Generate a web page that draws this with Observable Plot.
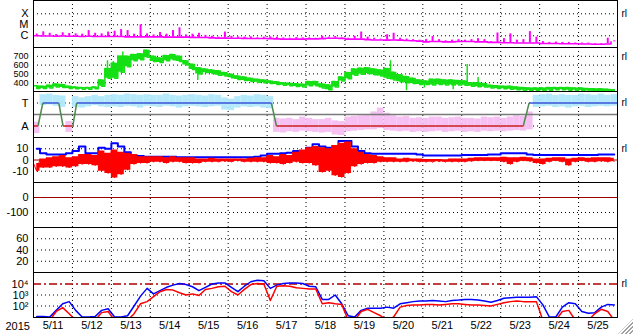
<!DOCTYPE html>
<html><head><meta charset="utf-8">
<script src="https://cdn.jsdelivr.net/npm/d3@7"></script>
<script src="https://cdn.jsdelivr.net/npm/@observablehq/plot@0.6"></script>
<style>
body{margin:0;background:#fff;}
#chart{position:relative;width:633px;height:334px;overflow:hidden;background:#fff;}
#grip{position:absolute;right:0;bottom:0;width:15px;height:15px;
 background:repeating-linear-gradient(-45deg,#fff 0 1.5px,#a0a0a0 1.5px 3px);
 clip-path:polygon(100% 0,100% 100%,0 100%);}
</style></head><body><div id="chart"><div id="grip"></div></div>
<script>
// ---- data (4-hour bins from 2015-05-11 00:00 UT) ----
const dayLabels = ["5/11","5/12","5/13","5/14","5/15","5/16","5/17","5/18","5/19","5/20","5/21","5/22","5/23","5/24","5/25"];
const yearLabel = "2015";

// X-ray flux in units of C1 (1e-6 W/m2): baseline and peak per bin
const xrayLo = [1.0,0.95,0.95,0.9,0.95,0.9, 0.9,0.85,0.9,0.85,0.85,0.85, 0.85,0.85,0.8,0.8,0.8,0.8,
  0.8,0.8,0.75,0.75,0.75,0.75, 0.72,0.7,0.7,0.65,0.62,0.62, 0.6,0.6,0.58,0.57,0.57,0.57,
  0.55,0.52,0.5,0.5,0.5,0.5, 0.52,0.52,0.55,0.6,0.6,0.58, 0.5,0.5,0.5,0.45,0.42,0.42,
  0.4,0.42,0.4,0.37,0.35,0.33, 0.28,0.3,0.3,0.28,0.28,0.3, 0.3,0.3,0.28,0.28,0.25,0.25,
  0.23,0.23,0.22,0.22,0.22,0.22, 0.2,0.2,0.2,0.19,0.19,0.19, 0.18,0.18,0.17,0.17,0.18,0.28];
const xrayHi = [1.45,2.3,1.7,1.3,1.9,1.6, 1.5,1.4,3.0,1.7,1.5,2.2, 2.6,3.7,3.0,1.4,10,1.5,
  1.2,2.0,1.4,3.0,5.3,1.2, 1.4,1.7,1.1,0.9,0.75,2.2, 0.9,0.8,0.75,0.8,0.65,0.75,
  0.8,0.75,0.65,0.6,0.7,0.65, 0.65,0.6,0.9,0.75,0.85,0.65, 0.6,0.9,2.2,0.75,0.6,0.5,
  1.25,1.7,0.6,0.5,0.45,0.4, 0.45,0.85,0.45,0.35,0.4,0.45, 0.4,0.45,0.55,0.45,0.3,1.8,
  0.55,1.5,0.4,0.45,2.4,0.75, 0.3,0.25,0.27,0.25,0.25,0.22, 0.22,0.22,0.2,0.2,0.6,0.35];

// Solar wind speed (km/s): band min and max per bin, plus isolated spikes
const speedLo = [335,335,340,350,345,335, 330,325,325,330,360,450, 450,520,580,650,660,690,
  640,630,650,660,640,600, 550,500,515,505,485,475, 455,435,425,415,405,400,
  390,380,372,365,358,352, 365,365,340,320,350,420, 445,485,495,505,490,475,
  450,430,410,400,390,380, 380,375,380,375,375,375, 370,360,355,350,340,335,
  330,325,320,315,310,310, 310,315,320,320,315,315, 310,305,300,300,295,290];
const speedHi = [365,360,370,385,380,360, 350,345,345,350,430,560, 620,700,700,720,730,770,
  700,680,710,720,700,650, 610,570,555,545,535,515, 495,475,465,450,440,430,
  420,410,400,395,388,382, 415,415,385,375,415,465, 515,555,565,570,555,545,
  560,520,490,470,450,430, 420,440,440,430,430,425, 420,400,400,390,370,365,
  360,360,350,345,340,340, 340,345,345,345,345,340, 340,335,330,330,325,320];
const spikeDay  = [1.9, 2.05, 2.295, 4.22, 9.17, 9.58, 10.04, 10.78, 11.14, 11.42];
const spikeBase = [460, 470, 650, 540, 520, 440, 390, 390, 400, 380];
const spikeTo   = [650, 640, 750, 425, 650, 310, 340, 320, 607, 460];

// IMF azimuth (deg): spread of the scatter per bin
const phiLo = [30,250,255,245,235,40, 235,230,240,250,240,235, 240,235,245,240,230,245,
  240,235,245,240,230,240, 245,240,235,240,245,215, 210,230,240,235,240,230,
  225,40,35,45,40,50, 45,40,35,40,20,15, 45,50,55,60,60,70,
  55,50,45,50,40,45, 40,45,50,40,45,50, 40,45,40,50,45,50,
  45,50,55,50,60,235, 240,245,235,240,230,240, 245,235,240,245,240,245];
const phiHi = [120,335,340,330,325,125, 320,310,320,330,320,330, 335,330,340,335,330,335,
  330,330,340,330,325,330, 335,330,325,335,330,310, 300,320,330,325,335,330,
  320,150,145,150,140,160, 150,140,140,150,130,125, 160,165,170,175,200,230,
  190,170,160,165,150,155, 150,160,160,150,155,160, 150,150,145,160,155,160,
  150,160,170,165,200,330, 335,340,330,335,330,330, 340,335,330,340,330,335];
// Sector polarity: day offset and level (270 = T, 90 = A)
const sectorDay = [0, 0.115, 0.24, 0.65, 0.76, 1.01, 1.11, 6.11, 6.24, 12.58, 12.73, 15];
const sectorPhi = [90, 90, 270, 270, 90, 90, 270, 270, 90, 90, 270, 270];

// IMF Bt (nT) and Bz min / max (nT)
const bt = [10,6,5,5,5,6, 8,12,6,6,11,10, 15,12,7,4,3.5,3, 3,3,3,3,2.5,2.5,
  2.5,2.5,2.5,2.5,2.5,2.5, 2.5,2.5,2.5,2.5,3,4, 5.5,5.5,6,6.5,8,8,
  11,14,12,11,11,17, 17,12,8,6,5.5,5.5, 5.5,5.5,5.5,5.5,5.5,5,
  4,4,4,4,4,4, 4.5,4.5,4.5,4.5,5,5, 6,6,6,6,5,4.5,
  4.5,4.5,4.5,4.5,4.5,4.5, 4.5,4.5,4.5,5,5,5];
const bzLo = [-10,-7,-7,-6,-6,-7, -6,-4,-4,-5,-10,-12, -16,-13,-9,-4,-3,-3,
  -2,-2,-3,-2,-2,-3, -3,-3,-2,-2,-2,-1.5, -2,-1,-2,-2,-2,-2,
  -3,-3,-4,-3,-2,-3, -3,-5,-11,-10,-14,-15.5, -12,-6,-4,-3,-3,-2,
  -2,-2,-2,-2,-1.5,-2, -2,-2,-1.5,-2,-2,-2, -2,-1.5,-1,-1,-1,-1,
  -2,-4,-2,-1,-1.5,-3, -4,-2,-1,-2,-5,-2, -1,-2,-2,-1.5,-2,-1.5];
const bzHi = [-3,1,2,3,4,2, 3,5,5,4,8,6, 9,7,6,5,3,3,
  3,3,2,3,2,2, 2,1,1,1.5,1,1, 1,1,1,1.5,2,2,
  4,3,5,4,7,9, 11,12,11,10,13,15, 16,10,7,5,4,3,
  2,2,1,1.5,1,1, 0.5,0.5,0.5,0,1,1, 1,1.5,2,2,2,2,
  2.5,2,2,2.5,2,1, 1,1.5,2,2,1,1.5, 2,1.5,2,2,2,1.5];

// >2 MeV electron flux, two satellites
const elecBlue = [11,11,10,40,160,250, 40,10,10,11,40,56, 10,10,13,100,790,4000,
  1260,2500,5000,7900,11000,8900, 5600,2500,5000,10000,12600,12600, 5000,2000,6300,16000,22000,20000,
  4000,7900,11000,12600,12600,11000, 6300,5600,400,400,1000,160, 13,10,40,63,63,63,
  79,63,160,200,250,280, 280,320,280,250,320,350, 400,400,350,280,220,320,
  500,560,630,630,630,710, 126,10,10,79,200,160, 32,22,25,79,140,126];
const elecRed = [5,5,5,32,71,20, 5,5,5,5,25,32, 5,5,5,20,160,250,
  710,2000,3200,2800,1600,1000, 1260,890,3200,4000,5600,6300, 2000,1000,3200,8900,11000,10000,
  320,6300,7100,6300,4500,4000, 3500,3500,160,200,160,140, 5,5,32,50,25,13,
  5,10,79,112,126,126, 140,140,126,140,160,160, 140,126,126,112,100,140,
  200,250,280,250,250,250, 5,5,5,32,40,5, 5,5,20,50,32,5];

// ---- layout ----
const FONT = '"Liberation Sans", Arial, Helvetica, sans-serif';
const T0 = Date.UTC(2015, 4, 11);
const HOUR = 3600000, DAY = 24 * HOUR, BIN = 4 * HOUR;
const NDAYS = dayLabels.length;
const xDomain = [new Date(T0), new Date(T0 + NDAYS * DAY)];
const tAt = (i, off) => new Date(T0 + i * BIN + off);
const dayLines = d3.range(1, NDAYS).map(k => new Date(T0 + k * DAY));
const noons = dayLabels.map((_, k) => new Date(T0 + k * DAY + DAY / 2));

const bins = (arrs) => arrs[0].map((_, i) => {
  const o = {t: tAt(i, 0), tm: tAt(i, BIN / 2), t2: tAt(i, BIN)};
  arrs.forEach((a, j) => o["v" + j] = a[i]);
  return o;
});
// alternate max / min within each bin
const zig = (lo, hi) => lo.flatMap((_, i) => [{t: tAt(i, 0), v: hi[i]}, {t: tAt(i, 2 * HOUR), v: lo[i]}]);

const root = document.getElementById("chart");
const W = 633, ML = 33, MR = 16;
const dotted = {stroke: "#000", strokeWidth: 1, strokeDasharray: "1,3"};

function addPanel({top, h, mb = 0, y, grid, ticks, fmt, marks, rlAt, xaxis = false, fs = 11, after = []}) {
  const plot = Plot.plot({
    width: W, height: h + mb,
    marginLeft: ML, marginRight: MR, marginTop: 0, marginBottom: mb,
    style: {background: "transparent", fontFamily: FONT, fontSize: "11px", color: "#000", overflow: "visible"},
    x: xaxis ? {type: "utc", domain: xDomain} : {type: "utc", domain: xDomain, axis: null},
    y,
    marks: [
      Plot.ruleX(dayLines, dotted),
      Plot.ruleY(grid, dotted),
      ...marks,
      Plot.axisY(ticks, {tickSize: 0, tickPadding: 5, tickFormat: fmt, fontSize: fs, label: null}),
      xaxis ? Plot.axisX(noons, {tickSize: 0, tickPadding: 4, fontSize: 11, label: null,
        tickFormat: d => dayLabels[Math.floor((d - T0) / DAY)]}) : null,
      Plot.frame({stroke: "#000", strokeWidth: 1}),
      rlAt != null ? Plot.text(["rl"], {x: () => xDomain[1], y: () => rlAt, text: d => d, dx: 4,
        textAnchor: "start", fontSize: 10}) : null,
      ...after
    ]
  });
  plot.style.position = "absolute";
  plot.style.top = top + "px";
  plot.style.left = "0px";
  root.append(plot);
}

// Panel 1: X-ray
const xr = bins([xrayLo, xrayHi]);
addPanel({top: 0, h: 47, y: {type: "log", domain: [0.0863, 1618]}, grid: [1, 10, 100], ticks: [1, 10, 100],
  fmt: v => ({1: "C", 10: "M", 100: "X"})[v], rlAt: 100,
  marks: [
    Plot.line(xr, {x: "t", y: "v0", stroke: "#ff00ff", strokeWidth: 1.6, curve: "step-after", clip: true}),
    Plot.ruleX(xr, {x: "tm", y1: "v0", y2: "v1", stroke: "#ff00ff", strokeWidth: 2, clip: true})
  ]});

// Panel 2: speed
const sp = bins([speedLo, speedHi]);
const spikes = spikeDay.map((d, i) => ({t: new Date(T0 + d * DAY), a: spikeBase[i], b: spikeTo[i]}));
addPanel({top: 47, h: 44, y: {domain: [300, 800]}, grid: [400, 500, 600, 700], ticks: [400, 500, 600, 700],
  fmt: d => d, rlAt: 700, fs: 9,
  marks: [
    Plot.areaY(sp, {x: "tm", y1: "v0", y2: "v1", fill: "#14e014", curve: "step", clip: true}),
    Plot.line(zig(speedLo, speedHi), {x: "t", y: "v", stroke: "#14e014", strokeWidth: 1.5, curve: "step-after", clip: true}),
    Plot.ruleX(spikes, {x: "t", y1: "a", y2: "b", stroke: "#14e014", strokeWidth: 1.5, clip: true})
  ]});

// Panel 3: sector
const ph = bins([phiLo, phiHi]);
const sectorPts = sectorDay.map((d, i) => ({t: new Date(T0 + d * DAY), v: sectorPhi[i]}));
const sectorSegs = sectorPts.slice(1).map((p, i) => ({a: sectorPts[i], b: p}));
addPanel({top: 91, h: 46, y: {domain: [0, 360]}, grid: [90, 270], ticks: [90, 270],
  fmt: v => v === 90 ? "A" : "T", rlAt: 270,
  marks: [
    Plot.rect(ph, {x1: "t", x2: "t2", y1: "v0", y2: "v1",
      fill: d => (d.v0 + d.v1) / 2 > 180 ? "#b0e8fb" : "#f6bdf2", fillOpacity: 0.95, clip: true}),
    Plot.ruleY([180], {stroke: "#7a7a7a", strokeWidth: 1.5}),
    Plot.link(sectorSegs, {x1: s => s.a.t, y1: s => s.a.v, x2: s => s.b.t, y2: s => s.b.v,
      stroke: s => s.a.v !== s.b.v ? "#4e8a4e" : (s.a.v === 270 ? "#3a55d8" : "#cc2020"),
      strokeWidth: 1.5, clip: true})
  ]});

// Panel 4: IMF
const bb = bins([bt, bzLo, bzHi]);
addPanel({top: 137, h: 45, y: {domain: [-20, 20]}, grid: [-10, 10], ticks: [-10, 0, 10],
  fmt: d => d, rlAt: 10,
  marks: [
    Plot.ruleY([0], {stroke: "#a00000", strokeWidth: 1}),
    Plot.line(bb, {x: "tm", y: "v0", stroke: "#0000ff", strokeWidth: 2, curve: "step", clip: true}),
    Plot.areaY(bb, {x: "tm", y1: "v1", y2: "v2", fill: "#ff0000", curve: "step", clip: true}),
    Plot.line(zig(bzLo, bzHi), {x: "t", y: "v", stroke: "#ff0000", strokeWidth: 1, clip: true})
  ]});

// Panel 5: Dst
addPanel({top: 182, h: 45, y: {domain: [-200, 100]}, grid: [-100], ticks: [-100, 0], fmt: d => d,
  marks: [Plot.ruleY([0], {stroke: "#a00000", strokeWidth: 1})]});

// Panel 6
addPanel({top: 227, h: 45, y: {domain: [0, 80]}, grid: [20, 40, 60], ticks: [20, 40, 60], fmt: d => d, marks: []});

// Panel 7: electrons
const el = bins([elecBlue, elecRed]);
addPanel({top: 272, h: 45, mb: 17, xaxis: true, y: {type: "log", domain: [9.02, 110900]},
  grid: [100, 1000], ticks: [100, 1000, 10000], fmt: v => ({100: "10²", 1000: "10³", 10000: "10⁴"})[v], rlAt: 10000,
  marks: [
    Plot.ruleY([10000], {stroke: "#b00000", strokeWidth: 1.5, strokeDasharray: "8,3,2,3"}),
    Plot.line(el, {x: "tm", y: "v0", stroke: "#0000ff", strokeWidth: 1.5, clip: true}),
    Plot.line(el, {x: "tm", y: "v1", stroke: "#ff0000", strokeWidth: 1.5, clip: true})
  ],
  after: [Plot.text([yearLabel], {frameAnchor: "bottom-left", text: d => d, dx: -28, dy: 9,
    textAnchor: "start", lineAnchor: "middle", fontSize: 11})]});
</script></body></html>
